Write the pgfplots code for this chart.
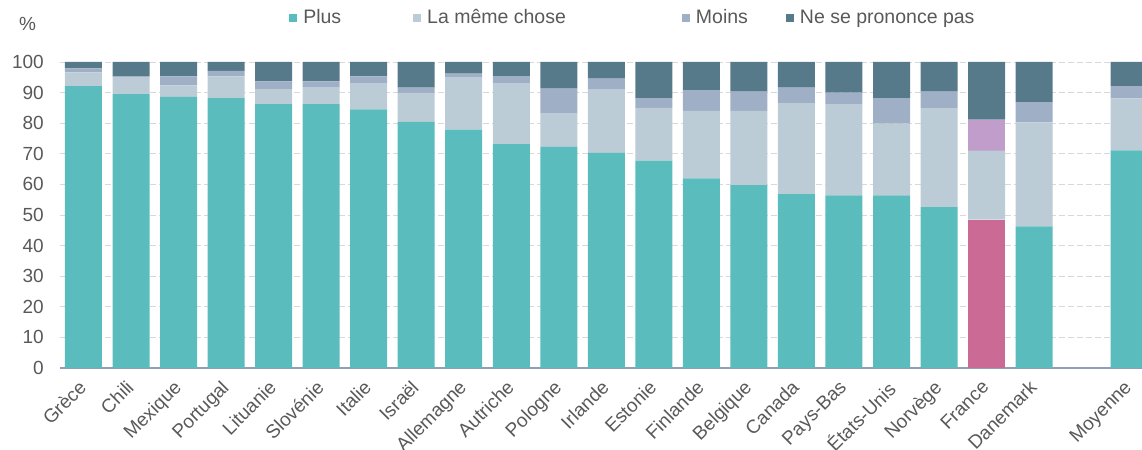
\documentclass[border=0pt]{standalone}
\usepackage{pgfplots}
\pgfplotsset{compat=1.18}
\usepackage{pgfplotstable}
\usepackage{fontspec}
\setmainfont{Liberation Sans}
\definecolor{cplus}{HTML}{5BBCBD}
\definecolor{csame}{HTML}{BCCCD6}
\definecolor{cmoins}{HTML}{9FAFC5}
\definecolor{cnsp}{HTML}{577A8A}
\definecolor{cfrplus}{HTML}{CC6A96}
\definecolor{cfrmoins}{HTML}{C19DCB}
\definecolor{ctext}{HTML}{595959}
\definecolor{cgrid}{HTML}{D9D9D9}
\definecolor{caxis}{HTML}{8EA0B8}
\pgfplotsset{sqlegend/.style={legend image code/.code={\path[##1] (0bp,-4bp) rectangle (8bp,4bp);}}}
\pgfplotstableread{
x plus plusfr same moins moinsfr nsp
0 92.1 0 4.5 1.3 0 2.1
1 89.5 0 5.6 0.3 0 4.6
2 88.6 0 3.8 2.9 0 4.7
3 88.2 0 7.1 1.8 0 2.9
4 86.2 0 4.9 2.6 0 6.3
5 86.2 0 5.6 1.9 0 6.3
6 84.5 0 8.4 2.4 0 4.7
7 80.4 0 9.5 1.7 0 8.4
8 77.9 0 17.0 1.3 0 3.8
9 73.2 0 19.7 2.5 0 4.6
10 72.3 0 10.8 8.2 0 8.7
11 70.3 0 20.8 3.5 0 5.4
12 67.8 0 17.2 3.2 0 11.8
13 62.0 0 22.0 6.8 0 9.2
14 59.8 0 24.2 6.3 0 9.7
15 56.8 0 29.8 5.0 0 8.4
16 56.4 0 29.7 3.9 0 10.0
17 56.4 0 23.5 8.3 0 11.8
18 52.6 0 32.2 5.5 0 9.7
19 0 48.5 22.5 0 10.2 18.8
20 46.3 0 34.0 6.6 0 13.1
22 71.1 0 17.0 4.0 0 7.9
}\data
\newcommand\lfont{\fontsize{19bp}{23bp}\selectfont}
\begin{document}
\lfont
\begin{tikzpicture}
\useasboundingbox (0,0) rectangle (1142bp,450bp);
\begin{axis}[
  at={(60bp,82bp)}, anchor=south west,
  scale only axis, width=1082bp, height=306bp,
  ybar stacked, bar width=37bp,
  xmin=-0.494, xmax=22.27, ymin=0, ymax=100,
  xtick={0,...,20,22},
  xticklabels={Grèce,Chili,Mexique,Portugal,Lituanie,Slovénie,Italie,Israël,Allemagne,Autriche,Pologne,Irlande,Estonie,Finlande,Belgique,Canada,Pays-Bas,États-Unis,Norvège,France,Danemark,Moyenne},
  ytick={0,10,...,100},
  /pgf/number format/assume math mode=true,
  tick label style={font=\lfont, text=ctext},
  xticklabel style={xshift=-6bp, yshift=-11bp, rotate=45, anchor=north east, inner sep=0bp},
  yticklabel style={inner sep=0pt, xshift=-16bp},
  major tick length=0pt,
  axis x line*=bottom, axis y line*=left,
  x axis line style={-, draw=caxis, line width=1.8bp},
  y axis line style={draw=none},
  ymajorgrids, major grid style={draw=cgrid, line width=0.8bp, dash pattern=on 6bp off 3bp},
  legend columns=4,
  legend style={at={(0.2119,1.1428)}, anchor=west, draw=none, fill=none,
    inner sep=0pt, outer sep=0pt,
    font=\fontsize{19.5bp}{23bp}\selectfont, text=ctext,
    nodes={inner sep=0pt},
    /tikz/column 1/.style={column sep=6bp},
    /tikz/column 2/.style={column sep=72bp},
    /tikz/column 3/.style={column sep=6bp},
    /tikz/column 4/.style={column sep=116bp},
    /tikz/column 5/.style={column sep=6bp},
    /tikz/column 6/.style={column sep=38bp},
    /tikz/column 7/.style={column sep=6bp}},
]
\addplot[fill=cplus, draw=none, sqlegend] table[x=x, y=plus] {\data};
\addlegendentry{Plus}
\addplot[fill=cfrplus, draw=none, forget plot] table[x=x, y=plusfr] {\data};
\addplot[fill=csame, draw=none, sqlegend] table[x=x, y=same] {\data};
\addlegendentry{La même chose}
\addplot[fill=cmoins, draw=none, sqlegend] table[x=x, y=moins] {\data};
\addlegendentry{Moins}
\addplot[fill=cfrmoins, draw=none, forget plot] table[x=x, y=moinsfr] {\data};
\addplot[fill=cnsp, draw=none, sqlegend] table[x=x, y=nsp] {\data};
\addlegendentry{Ne se prononce pas}
\end{axis}
\node[text=ctext, font=\lfont] at (27.5bp,426bp) {\%};
\end{tikzpicture}
\end{document}
